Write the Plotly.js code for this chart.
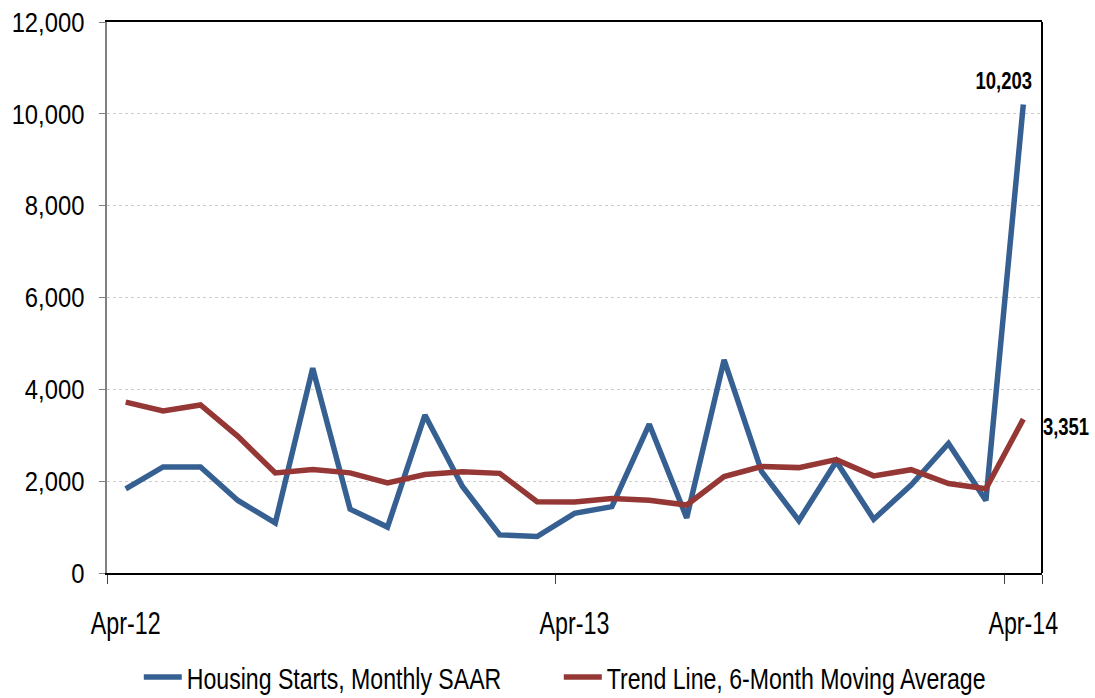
<!DOCTYPE html>
<html>
<head>
<meta charset="utf-8">
<script src="https://cdn.plot.ly/plotly-3.0.1.min.js"></script>
<style>
  html, body { margin: 0; padding: 0; background: #fff; }
  #chart { width: 1095px; height: 698px; }
</style>
</head>
<body>
<div id="chart"></div>
<script>
// Monthly categories, Apr-12 .. Apr-14
const months = ["Apr-12","May-12","Jun-12","Jul-12","Aug-12","Sep-12","Oct-12","Nov-12","Dec-12","Jan-13","Feb-13","Mar-13",
                "Apr-13","May-13","Jun-13","Jul-13","Aug-13","Sep-13","Oct-13","Nov-13","Dec-13","Jan-14","Feb-14","Mar-14","Apr-14"];
// Housing Starts, Monthly SAAR
const housingStarts = [1830, 2310, 2310, 1580, 1090, 4460, 1390, 1000, 3440, 1890, 830, 795,
                       1300, 1445, 3240, 1200, 4640, 2215, 1140, 2430, 1170, 1915, 2820, 1580, 10203];
// Trend Line, 6-Month Moving Average
const trendLine = [3720, 3530, 3660, 2975, 2180, 2252, 2181, 1964, 2146, 2205, 2170, 1553,
                   1545, 1625, 1585, 1480, 2100, 2318, 2295, 2468, 2115, 2250, 1948, 1835, 3351];
const tickLabels = ["Apr-12", "Apr-13", "Apr-14"];
const seriesNames = ["Housing Starts, Monthly SAAR", "Trend Line, 6-Month Moving Average"];

const fmt = v => v.toLocaleString("en-US");
const FONT = "'Liberation Sans', Arial, sans-serif";
const last = months.length - 1;

const traces = [
  { x: months, y: housingStarts, type: "scatter", mode: "lines", name: seriesNames[0],
    line: { color: "#376092", width: 5.5 }, hoverinfo: "x+y" },
  { x: months, y: trendLine, type: "scatter", mode: "lines", name: seriesNames[1],
    line: { color: "#953735", width: 5.5 }, hoverinfo: "x+y" }
];

const layout = {
  width: 1095, height: 698,
  margin: { l: 107, r: 53, t: 22, b: 125, autoexpand: false },
  paper_bgcolor: "#ffffff", plot_bgcolor: "#ffffff",
  font: { family: FONT, color: "#000000" },
  showlegend: true,
  legend: {
    orientation: "h", x: 0.034, xanchor: "left", y: -0.1416, yanchor: "top",
    font: { family: FONT, size: 30, color: "#000" },
    itemwidth: 38, entrywidth: 367, entrywidthmode: "pixels", tracegroupgap: 0
  },
  xaxis: {
    type: "category", range: [-0.5, last + 0.5],
    tickmode: "array", tickvals: tickLabels, ticktext: tickLabels, tickangle: 0,
    tickson: "boundaries", ticks: "outside", ticklen: 9, tickcolor: "#404040", tickwidth: 1,
    showgrid: false, zeroline: false,
    showline: true, linecolor: "#000000", linewidth: 2, mirror: true,
    tickfont: { family: FONT, size: 31, color: "#000" },
    ticklabelstandoff: 22, fixedrange: true
  },
  yaxis: {
    range: [0, 12000], tickmode: "linear", tick0: 0, dtick: 2000, tickformat: ",d",
    ticks: "outside", ticklen: 6, tickcolor: "#808080", tickwidth: 1,
    showgrid: true, gridcolor: "#cccccc", griddash: "dot", gridwidth: 1,
    zeroline: false, showline: true, linecolor: "#808080", linewidth: 2,
    tickfont: { family: FONT, size: 28, color: "#000" },
    ticklabelstandoff: 9, fixedrange: true
  },
  shapes: [
    { type: "line", xref: "paper", yref: "paper", x0: 1, x1: 1, y0: 0, y1: 1,
      line: { color: "#000000", width: 2 } }
  ],
  annotations: [
    { x: months[last], y: housingStarts[last], text: "<b>" + fmt(housingStarts[last]) + "</b>",
      showarrow: false, xanchor: "center", yanchor: "bottom", xshift: -20, yshift: 9,
      font: { family: FONT, size: 24, color: "#000" } },
    { x: months[last], y: trendLine[last], text: "<b>" + fmt(trendLine[last]) + "</b>",
      showarrow: false, xanchor: "center", yanchor: "middle", xshift: 43, yshift: -7,
      font: { family: FONT, size: 24, color: "#000" } }
  ]
};

// horizontally condense text around its anchor point (the reference uses a narrow face)
function condense(selector, k) {
  document.querySelectorAll(selector).forEach(t => {
    const x = parseFloat(t.getAttribute("x")) || 0;
    const prev = t.getAttribute("transform") || "";
    t.setAttribute("transform", (prev + " translate(" + x + ",0) scale(" + k + ",1) translate(" + (-x) + ",0)").trim());
  });
}

Plotly.newPlot("chart", traces, layout, { displayModeBar: false, staticPlot: true }).then(() => {
  condense("#chart .ytick text", 0.85);
  condense("#chart .xtick text", 0.75);
  condense("#chart .legendtext", 0.77);
  condense("#chart .annotation-text", 0.77);
  // let the condensed legend text run past the computed legend box
  document.querySelectorAll("#chart .legend [clip-path]").forEach(el => el.removeAttribute("clip-path"));
});
</script>
</body>
</html>
